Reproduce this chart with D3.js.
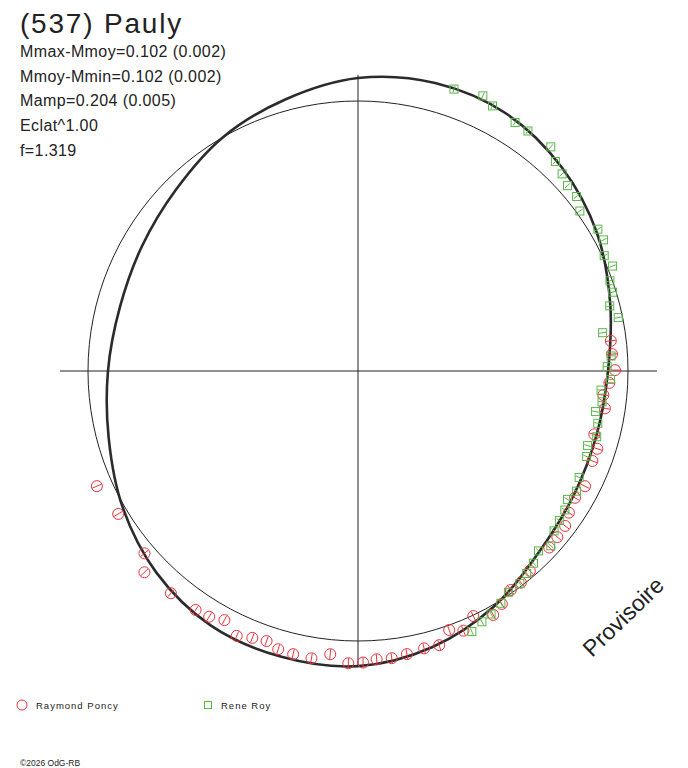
<!DOCTYPE html>
<html>
<head>
<meta charset="utf-8">
<script src="https://cdn.jsdelivr.net/npm/d3@7"></script>
<style>
  body { margin: 0; background: #fff; }
  text { font-family: "Liberation Sans", Arial, sans-serif; fill: #222; }
</style>
</head>
<body>
<div id="polar_chart"></div>
<script>
// fitted curve, relative radius every 15 degrees (0 = right, counter-clockwise)
var fitAngles = [0, 15, 30, 45, 60, 75, 90, 105, 120, 135, 150, 165,
  180, 195, 210, 225, 240, 255, 270, 285, 300, 315, 330, 345];
var fitRadius = [0.926, 0.967, 1.022, 1.067, 1.100, 1.104, 1.085, 1.041, 1.000, 0.952, 0.924, 0.913,
  0.926, 0.956, 1.007, 1.056, 1.089, 1.096, 1.093, 1.059, 1.007, 0.948, 0.922, 0.915];

// Raymond Poncy
var poncyAngle = [203.8, 210.8, 220.5, 223.3, 229.9, 235.8, 238.8, 241.8, 245.4, 248.4, 251.3, 254.0,
  257.1, 260.8, 264.4, 268.1, 271.0, 273.7, 276.7, 279.8, 283.4, 286.5, 289.4, 292.1, 295.2,
  299.0, 301.7, 304.9, 307.6, 310.7, 317.3, 320.2, 323.2, 326.1, 329.7, 333.1, 339.0, 342.0,
  345.0, 351.4, 354.4, 357.3, 0.2, 3.8, 6.8];
var poncyRadius = [1.057, 1.034, 1.040, 1.087, 1.076, 1.070, 1.064, 1.047, 1.079, 1.063, 1.056, 1.072,
  1.076, 1.078, 1.054, 1.083, 1.080, 1.070, 1.071, 1.064, 1.056, 1.059, 1.017, 1.038, 1.003,
  1.033, 1.014, 0.989, 0.989, 0.976, 0.964, 0.961, 0.958, 0.941, 0.931, 0.943, 0.930, 0.932,
  0.906, 0.925, 0.913, 0.932, 0.952, 0.943, 0.943];

// Rene Roy
var royAngle = [71.2, 65.6, 63.1, 57.7, 54.7, 49.3, 46.7, 44.0, 41.5, 38.6, 35.8, 30.6, 28.1, 25.1,
  22.4, 19.7, 17.2, 14.5, 11.6, 8.9, 3.4, 1.0, 358.1, 355.5, 352.8, 350.3, 347.7, 344.6, 342.0,
  339.5, 334.3, 331.2, 328.5, 326.1, 323.4, 320.8, 317.8, 315.1, 312.4, 309.8, 307.3, 304.2,
  301.6, 298.7, 296.3, 293.6];
var royRadius = [1.103, 1.119, 1.101, 1.089, 1.089, 1.095, 1.066, 1.051, 1.036, 1.036, 1.013, 1.032,
  1.031, 1.007, 1.020, 0.991, 0.987, 0.963, 0.984, 0.917, 0.939, 0.923, 0.936, 0.903, 0.911,
  0.892, 0.909, 0.917, 0.894, 0.904, 0.909, 0.924, 0.910, 0.923, 0.929, 0.937, 0.964, 0.944,
  0.964, 0.976, 0.990, 0.991, 1.010, 1.026, 1.036, 1.053];

var infoLines = ["Mmax-Mmoy=0.102 (0.002)", "Mmoy-Mmin=0.102 (0.002)", "Mamp=0.204 (0.005)",
  "Eclat^1.00", "f=1.319"];

var width = 688, height = 768;
var cx = 358, cy = 371;
var red = "#e8343c", green = "#5ab54b", ink = "#222";

var svg = d3.select("#polar_chart")
  .append("svg")
  .attr("width", width)
  .attr("height", height);

var g = svg.append("g")
  .attr("transform", "translate(" + cx + "," + cy + ")");

var r = d3.scaleLinear().domain([0, 1]).range([0, 270]);
var rad = d => d * Math.PI / 180;

var px = (a, v) => r(v) * Math.cos(rad(a));
var py = (a, v) => -r(v) * Math.sin(rad(a));

// axes
g.append("line")
  .attr("x1", -298).attr("x2", 299).attr("y1", 0).attr("y2", 0)
  .attr("stroke", ink).attr("stroke-width", 1);
g.append("line")
  .attr("x1", 0).attr("x2", 0).attr("y1", -296).attr("y2", 296)
  .attr("stroke", ink).attr("stroke-width", 1);

// reference circle
g.append("circle")
  .attr("r", r(1))
  .attr("fill", "none")
  .attr("stroke", ink)
  .attr("stroke-width", 1);

// fitted curve
var fit = fitAngles.map((a, i) => ({ a: a, v: fitRadius[i] }));
var line = d3.lineRadial()
  .angle(d => Math.PI / 2 - rad(d.a))
  .radius(d => r(d.v))
  .curve(d3.curveCatmullRomClosed);

g.append("path")
  .datum(fit)
  .attr("fill", "none")
  .attr("stroke", "#2b2b2b")
  .attr("stroke-width", 2.6)
  .attr("stroke-linejoin", "round")
  .attr("d", line);

// tick across a marker, along the radius
function tick(sel, half) {
  sel.append("line")
    .attr("x1", d => px(d.a, d.v) - half * Math.cos(rad(d.a)))
    .attr("y1", d => py(d.a, d.v) + half * Math.sin(rad(d.a)))
    .attr("x2", d => px(d.a, d.v) + half * Math.cos(rad(d.a)))
    .attr("y2", d => py(d.a, d.v) - half * Math.sin(rad(d.a)));
}

var poncy = poncyAngle.map((a, i) => ({ a: a, v: poncyRadius[i] }));
var roy = royAngle.map((a, i) => ({ a: a, v: royRadius[i] }));

var pg = g.append("g").attr("stroke", red).attr("fill", "none").attr("stroke-width", 1);
pg.selectAll("circle")
  .data(poncy)
  .join("circle")
  .attr("cx", d => px(d.a, d.v))
  .attr("cy", d => py(d.a, d.v))
  .attr("r", 5.5);
pg.selectAll("line").data(poncy).join(enter => tick(enter, 5));

var rg = g.append("g").attr("stroke", green).attr("fill", "none").attr("stroke-width", 1);
rg.selectAll("rect")
  .data(roy)
  .join("rect")
  .attr("x", d => px(d.a, d.v) - 4)
  .attr("y", d => py(d.a, d.v) - 4)
  .attr("width", 8)
  .attr("height", 8);
rg.selectAll("line").data(roy).join(enter => tick(enter, 3.5));

// texts
svg.append("text")
  .attr("x", 20).attr("y", 33)
  .attr("font-size", 28)
  .attr("letter-spacing", 1.8)
  .text("(537) Pauly");

svg.selectAll(".info")
  .data(infoLines)
  .join("text")
  .attr("class", "info")
  .attr("x", 20)
  .attr("y", (d, i) => 57 + i * 24.7)
  .attr("font-size", 16)
  .attr("letter-spacing", 0.4)
  .text(d => d);

svg.append("text")
  .attr("transform", "translate(592,658) rotate(-44)")
  .attr("font-size", 23)
  .attr("fill", "#333")
  .text("Provisoire");

// legend
svg.append("circle")
  .attr("cx", 22).attr("cy", 705).attr("r", 5)
  .attr("fill", "none").attr("stroke", red);
svg.append("text")
  .attr("x", 36).attr("y", 709)
  .attr("font-size", 9.5).attr("letter-spacing", 1)
  .text("Raymond Poncy");

svg.append("rect")
  .attr("x", 204.5).attr("y", 701.5).attr("width", 7).attr("height", 7)
  .attr("fill", "none").attr("stroke", green);
svg.append("text")
  .attr("x", 221).attr("y", 709)
  .attr("font-size", 9.5).attr("letter-spacing", 1)
  .text("Rene Roy");

svg.append("text")
  .attr("x", 20).attr("y", 766)
  .attr("font-size", 8.5)
  .text("©2026 OdG-RB");
</script>
</body>
</html>
